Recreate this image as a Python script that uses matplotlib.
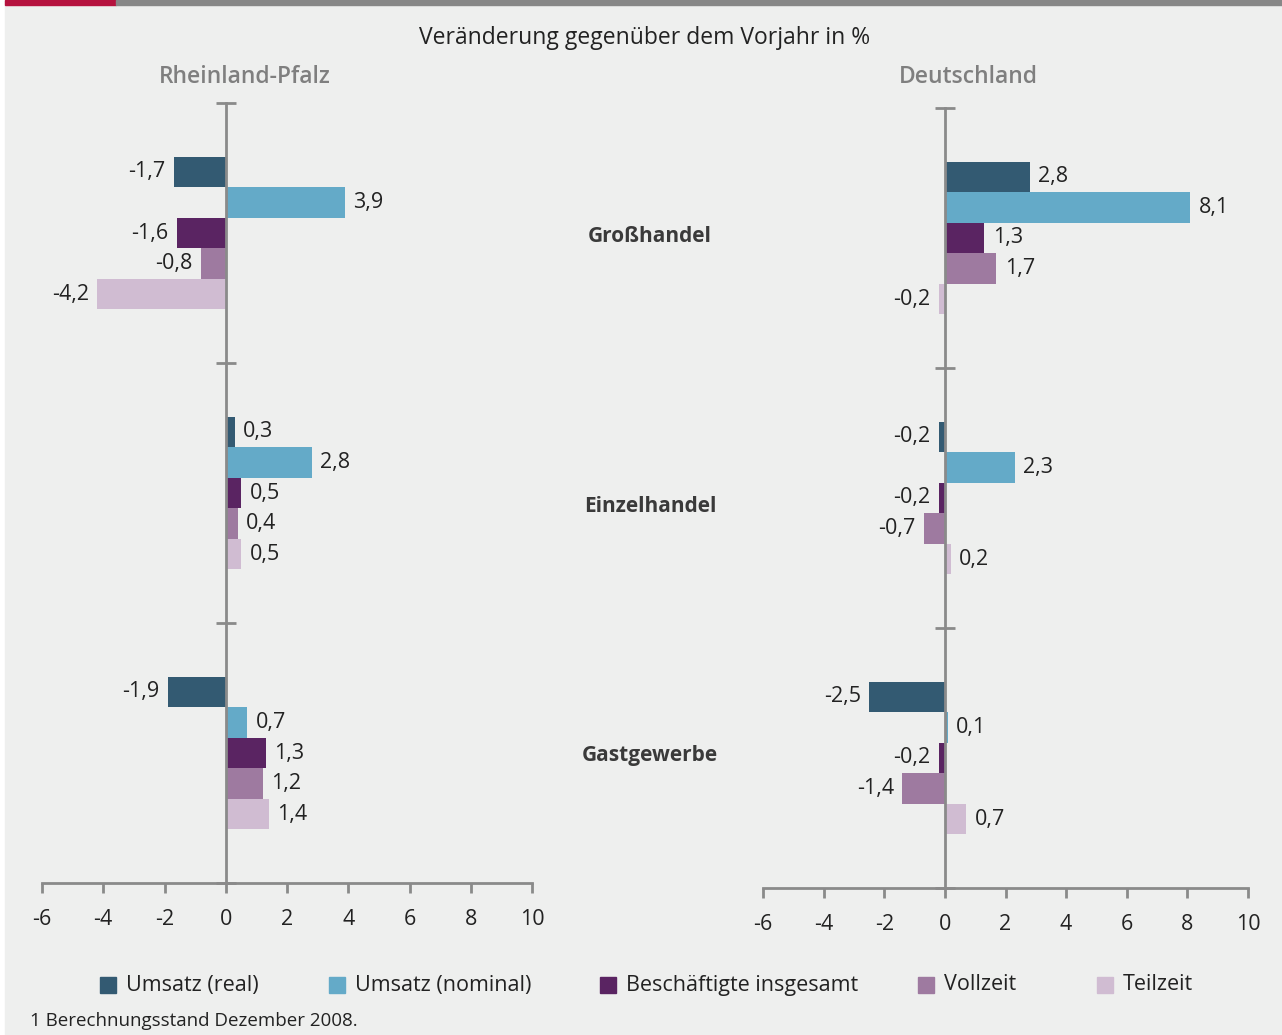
import numpy as np
import matplotlib
matplotlib.use('Agg')
import matplotlib.pyplot as plt
from matplotlib.patches import Rectangle

plt.rcParams['font.family'] = ['Open Sans', 'DejaVu Sans']

# Daten
branchen = ['Großhandel', 'Einzelhandel', 'Gastgewerbe']
reihen = ['Umsatz (real)', 'Umsatz (nominal)', 'Beschäftigte insgesamt', 'Vollzeit', 'Teilzeit']
farben = ['#335a72', '#64aac8', '#5a2462', '#9e7aa0', '#d0bcd2']

# Werte je Reihe: [Großhandel, Einzelhandel, Gastgewerbe]
rlp_umsatz_real = [-1.7, 0.3, -1.9]
rlp_umsatz_nominal = [3.9, 2.8, 0.7]
rlp_beschaeftigte = [-1.6, 0.5, 1.3]
rlp_vollzeit = [-0.8, 0.4, 1.2]
rlp_teilzeit = [-4.2, 0.5, 1.4]

de_umsatz_real = [2.8, -0.2, -2.5]
de_umsatz_nominal = [8.1, 2.3, 0.1]
de_beschaeftigte = [1.3, -0.2, -0.2]
de_vollzeit = [1.7, -0.7, -1.4]
de_teilzeit = [-0.2, 0.2, 0.7]

xticks = [-6, -4, -2, 0, 2, 4, 6, 8, 10]

W, H = 1282, 1035
fig = plt.figure(figsize=(W / 100, H / 100), dpi=100)
fig.set_facecolor('white')

# Hintergrund und Kopfleiste
fig.patches.append(Rectangle((5 / W, 0), 1 - 5 / W, 1, transform=fig.transFigure,
                             color='#eeefee', zorder=-10))
fig.patches.append(Rectangle((5 / W, 1 - 5 / H), 111 / W, 5 / H, transform=fig.transFigure,
                             color='#b5123e', zorder=-9))
fig.patches.append(Rectangle((116 / W, 1 - 5 / H), 1 - 116 / W, 5 / H, transform=fig.transFigure,
                             color='#878787', zorder=-9))

achsenfarbe = '#8a8a8a'
textfarbe = '#222222'
bar_h = 0.1175
fs = 15.5


def fmt(v):
    return f'{v:.1f}'.replace('.', ',')


def panel(rect, daten, titel, titel_x, titel_y):
    ax = fig.add_axes(rect)
    ax.set_facecolor('none')
    y0 = np.arange(len(branchen)) + 0.5
    for i, (werte, farbe) in enumerate(zip(daten, farben)):
        y = y0 + (i - 2) * bar_h
        bars = ax.barh(y, werte, height=bar_h, color=farbe, zorder=2)
        ax.bar_label(bars, labels=[fmt(v) for v in werte], padding=6,
                     fontsize=fs, color=textfarbe)
    ax.set_xlim(-6, 10)
    ax.set_ylim(3, 0)
    ax.set_xticks(xticks)
    ax.set_xticklabels([str(t) for t in xticks], fontsize=fs, color=textfarbe)
    ax.set_yticks([0, 1, 2, 3])
    ax.set_yticklabels([])
    for s in ['top', 'right']:
        ax.spines[s].set_visible(False)
    ax.spines['left'].set_position(('data', 0))
    for s in ['left', 'bottom']:
        ax.spines[s].set_color(achsenfarbe)
        ax.spines[s].set_linewidth(2)
        ax.spines[s].set_zorder(3)
    ax.tick_params(axis='x', direction='out', length=7, width=2, color=achsenfarbe, pad=12)
    ax.tick_params(axis='y', direction='inout', length=14, width=2, color=achsenfarbe)
    fig.text(titel_x / W, 1 - titel_y / H, titel, ha='center', va='center',
             fontsize=16.5, fontweight='semibold', color='#7f7f7f')
    return ax


panel([42 / W, (H - 883) / H, 490 / W, 780 / H],
      [rlp_umsatz_real, rlp_umsatz_nominal, rlp_beschaeftigte, rlp_vollzeit, rlp_teilzeit],
      'Rheinland-Pfalz', 245, 77)
panel([763 / W, (H - 888) / H, 485 / W, 780 / H],
      [de_umsatz_real, de_umsatz_nominal, de_beschaeftigte, de_vollzeit, de_teilzeit],
      'Deutschland', 968, 77)

fig.text(645 / W, 1 - 38 / H, 'Veränderung gegenüber dem Vorjahr in %', ha='center',
         va='center', fontsize=16.5, color=textfarbe)

for name, yy in zip(branchen, [236, 507, 756]):
    fig.text(650 / W, 1 - yy / H, name, ha='center', va='center', fontsize=15,
             fontweight='bold', color='#3a3a3a')

# Legende
leg_x = [100, 329, 600, 918, 1097]
for name, farbe, lx in zip(reihen, farben, leg_x):
    fig.patches.append(Rectangle((lx / W, 1 - 993 / H), 16 / W, 16 / H,
                                 transform=fig.transFigure, color=farbe))
    fig.text((lx + 26) / W, 1 - 985 / H, name, ha='left', va='center',
             fontsize=fs, color=textfarbe)

fig.text(30 / W, 1 - 1021 / H, '1 Berechnungsstand Dezember 2008.', ha='left',
         va='center', fontsize=13.5, color=textfarbe)

fig.savefig('out.png', dpi=100)
